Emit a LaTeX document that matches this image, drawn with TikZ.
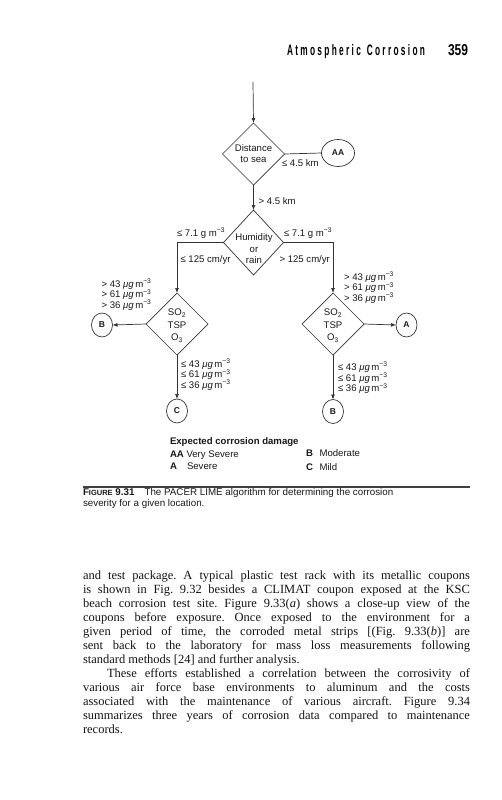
\documentclass[tikz,border=0pt]{standalone}
\usepackage{graphicx}
\usepackage{fontspec}
\setmainfont{Liberation Serif}
\newfontfamily\dsf{Liberation Sans}
\newfontfamily\hdf[LetterSpace=28]{Liberation Sans}
\usetikzlibrary{shapes.geometric,arrows.meta}
\newcommand\ugm{\textit{μg}\,m\textsuperscript{−3}}
\frenchspacing
\begin{document}
\begin{tikzpicture}[x=1pt,y=-1pt,
  every node/.style={inner sep=0pt, outer sep=0pt},
  ln/.style={draw=black!80, line width=0.7pt},
  arr/.style={ln, -{Latex[length=5pt,width=4pt]}},
  dia/.style={diamond, draw=black!80, line width=0.7pt, minimum width=62pt, minimum height=62pt},
  ell/.style={ellipse, draw=black!80, line width=0.7pt, minimum width=21pt, minimum height=24pt,
    font=\dsf\bfseries\fontsize{8.5}{10}\selectfont, text=black!90},
  lbl/.style={font=\dsf\fontsize{9.6}{10.6}\selectfont, text=black!90},
  dtxt/.style={font=\dsf\fontsize{9.6}{11.8}\selectfont, text=black!90, align=center},
  bodytxt/.style={anchor=base west, font=\fontsize{12.5}{14}\selectfont, text=black!92},
  captxt/.style={anchor=west, font=\dsf\fontsize{9.8}{11}\selectfont, text=black!90}
]
\fill[white] (0,0) rectangle (501,800);
\useasboundingbox (0,0) rectangle (501,800);

% header
\node[anchor=base west] (hd) at (287,56) {\resizebox{138pt}{11pt}{\hdf\bfseries Atmospheric\hspace{0.7em}Corrosion}};
\node[anchor=base west] (pg) at (448,56) {\resizebox{20pt}{11pt}{\dsf\bfseries 359}};

% nodes of the flow chart
\coordinate (start) at (253,82);
\node[dia] (d1) at (253.5,154) {};
\node[dtxt] (d1t) at (253.5,153.5) {Distance\\to sea};
\node[ell] (aa) at (338,153) [minimum width=33pt, minimum height=27pt] {AA};

\node[dia, minimum width=60pt, minimum height=65pt] (hum) at (253.5,242.5) {};
\node[dtxt, font=\dsf\fontsize{9.6}{11.5}\selectfont] (humt) at (254,249) {Humidity\\or\\rain};

\node[dia] (sl) at (177,324) {};
\node[dtxt, font=\dsf\fontsize{9.6}{12.5}\selectfont] (slt) at (177,325.5) {SO\textsubscript{2}\\TSP\\O\textsubscript{3}};
\node[dia] (sr) at (333,324) {};
\node[dtxt, font=\dsf\fontsize{9.6}{12.5}\selectfont] (srt) at (333,325.5) {SO\textsubscript{2}\\TSP\\O\textsubscript{3}};

\node[ell] (bl) at (102,325) {B};
\node[ell] (c) at (177,411) {C};
\node[ell] (a) at (406.5,325) {A};
\node[ell] (br) at (333,411.5) {B};

% connectors
\draw[arr] (start) -- (d1.north);
\draw[ln] (d1.east) -- (aa.west);
\draw[arr] (d1.south) -- (hum.north);
\draw[arr] (hum.west) -| (sl.north);
\draw[arr] (hum.east) -| (sr.north);
\draw[arr] (sl.west) -- (bl.east);
\draw[arr] (sl.south) -- (c.north);
\draw[arr] (sr.east) -- (a.west);
\draw[arr] (sr.south) -- (br.north);

% labels
\node[lbl, anchor=west] (l45a) at (282,163) {≤ 4.5 km};
\node[lbl, anchor=west] (l45b) at (258.5,201) {> 4.5 km};
\node[lbl, anchor=west] (lhl1) at (177,233) {≤ 7.1 g m\textsuperscript{−3}};
\node[lbl, anchor=west] (lhl2) at (180.5,260.5) {≤ 125 cm/yr};
\node[lbl, anchor=west] (lhr1) at (284,233) {≤ 7.1 g m\textsuperscript{−3}};
\node[lbl, anchor=west] (lhr2) at (279.5,260.5) {> 125 cm/yr};
\node[lbl, anchor=west, align=left] (lsl1) at (101.5,294.5) {> 43 \ugm\\> 61 \ugm\\> 36 \ugm};
\node[lbl, anchor=west, align=left] (lsl2) at (181,374.5) {≤ 43 \ugm\\≤ 61 \ugm\\≤ 36 \ugm};
\node[lbl, anchor=west, align=left] (lsr1) at (344,287.5) {> 43 \ugm\\> 61 \ugm\\> 36 \ugm};
\node[lbl, anchor=west, align=left] (lsr2) at (338,378) {≤ 43 \ugm\\≤ 61 \ugm\\≤ 36 \ugm};

% legend
\node[lbl, anchor=west, font=\dsf\bfseries\fontsize{9.6}{10.6}\selectfont] (lg) at (170,442) {Expected corrosion damage};
\node[lbl, anchor=west] (lgaa) at (170,455.5) {\textbf{AA} Very Severe};
\node[lbl, anchor=west] (lga) at (170,466) {\textbf{A}};
\node[lbl, anchor=west] (lgas) at (187,466) {Severe};
\node[lbl, anchor=west] (lgb) at (306,453) {\textbf{B}};
\node[lbl, anchor=west] (lgbs) at (319.5,453) {Moderate};
\node[lbl, anchor=west] (lgc) at (306,467.5) {\textbf{C}};
\node[lbl, anchor=west] (lgcs) at (319.5,467.5) {Mild};

% caption
\draw[draw=black!75, line width=1.3pt] (83,487) -- (470,487);
\node[captxt] (cp1) at (83,493) {\textbf{F{\fontsize{7.5}{8}\selectfont IGURE} 9.31}\hspace{10pt}The PACER LIME algorithm for determining the corrosion};
\node[captxt] (cp2) at (83,503.5) {severity for a given location.};

% body text
\node[bodytxt] (b1) at (83,579.5) {\makebox[387pt][s]{and test package. A typical plastic test rack with its metallic coupons}};
\node[bodytxt] (b2) at (83,593.5) {\makebox[387pt][s]{is shown in Fig. 9.32 besides a CLIMAT coupon exposed at the KSC}};
\node[bodytxt] (b3) at (83,607.5) {\makebox[387pt][s]{beach corrosion test site. Figure 9.33(\textit{a}) shows a close-up view of the}};
\node[bodytxt] (b4) at (83,621.5) {\makebox[387pt][s]{coupons before exposure. Once exposed to the environment for a}};
\node[bodytxt] (b5) at (83,635.5) {\makebox[387pt][s]{given period of time, the corroded metal strips [(Fig. 9.33(\textit{b})] are}};
\node[bodytxt] (b6) at (83,649.5) {\makebox[387pt][s]{sent back to the laboratory for mass loss measurements following}};
\node[bodytxt] (b7) at (83,663.5) {standard methods [24] and further analysis.};
\node[bodytxt] (b8) at (83,677.5) {\makebox[387pt][s]{\hspace*{24pt}These efforts established a correlation between the corrosivity of}};
\node[bodytxt] (b9) at (83,691.5) {\makebox[387pt][s]{various air force base environments to aluminum and the costs}};
\node[bodytxt] (b10) at (83,705.5) {\makebox[387pt][s]{associated with the maintenance of various aircraft. Figure 9.34}};
\node[bodytxt] (b11) at (83,719.5) {\makebox[387pt][s]{summarizes three years of corrosion data compared to maintenance}};
\node[bodytxt] (b12) at (83,733.5) {records.};
\end{tikzpicture}
\end{document}
